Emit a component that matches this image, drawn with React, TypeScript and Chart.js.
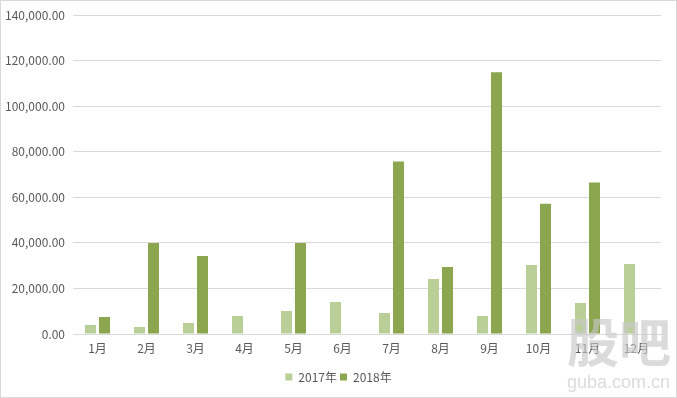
import React, { useEffect, useRef } from "react";
import { Chart, registerables } from "chart.js";

Chart.register(...registerables);

const months = ["1月", "2月", "3月", "4月", "5月", "6月", "7月", "8月", "9月", "10月", "11月", "12月"];
const series2017 = [4000, 3100, 4800, 7900, 10100, 14000, 9200, 24100, 7900, 30300, 13600, 30700];
const series2018 = [7500, 40000, 34300, null, 40000, null, 75700, 29400, 115000, 57200, 66500, null];
const label2017 = "2017年";
const label2018 = "2018年";
const yTicks = [0, 20000, 40000, 60000, 80000, 100000, 120000, 140000];

const FONT = "'Noto Sans CJK SC', 'Microsoft YaHei', sans-serif";

const framePlugin = {
  id: "frame",
  beforeDraw(chart: any) {
    const { ctx, width, height } = chart;
    ctx.save();
    ctx.fillStyle = "#ffffff";
    ctx.fillRect(0, 0, width, height);
    ctx.restore();
  },
  afterDraw(chart: any) {
    const { ctx, width, height } = chart;
    ctx.save();
    ctx.strokeStyle = "#d9d9d9";
    ctx.lineWidth = 1;
    ctx.strokeRect(0.5, 0.5, width - 1, height - 1);
    // watermark
    ctx.fillStyle = "rgba(200,200,200,0.65)";
    ctx.font = "bold 52px 'Noto Sans CJK SC', sans-serif";
    ctx.textAlign = "left";
    ctx.textBaseline = "alphabetic";
    ctx.fillText("股吧", 567, 362);
    ctx.font = "18px 'Liberation Sans', sans-serif";
    ctx.fillText("guba.com.cn", 567, 388);
    ctx.restore();
  },
};

export default function App() {
  const ref = useRef<HTMLCanvasElement>(null);
  useEffect(() => {
    document.body.style.margin = "0";
    const chart = new Chart(ref.current!, {
      type: "bar",
      data: {
        labels: months,
        datasets: [
          {
            label: label2017,
            data: series2017,
            backgroundColor: "#BACF97",
            categoryPercentage: 0.571,
            barPercentage: 0.786,
          },
          {
            label: label2018,
            data: series2018,
            backgroundColor: "#8BA64E",
            categoryPercentage: 0.571,
            barPercentage: 0.786,
          },
        ],
      },
      options: {
        responsive: false,
        animation: false,
        layout: { padding: { left: 0, right: 0, top: 15, bottom: 5 } },
        plugins: {
          legend: {
            position: "bottom",
            labels: {
              boxWidth: 7,
              boxHeight: 7,
              color: "#595959",
              font: { family: FONT, size: 12 },
              padding: 3,
            },
          },
          tooltip: { enabled: false },
        },
        scales: {
          x: {
            grid: { display: false },
            border: { display: true, color: "#d9d9d9" },
            ticks: { color: "#595959", font: { family: FONT, size: 12 }, padding: -1 },
            afterFit: (s: any) => {
              s.height = 34;
            },
          },
          y: {
            min: 0,
            max: 140000,
            afterBuildTicks: (s: any) => {
              s.ticks = yTicks.map((v) => ({ value: v }));
            },
            grid: { color: "#d9d9d9", drawTicks: false },
            border: { display: false },
            ticks: {
              color: "#595959",
              font: { family: FONT, size: 12 },
              padding: 8,
              callback: (v: any) =>
                Number(v).toLocaleString("en-US", { minimumFractionDigits: 2, maximumFractionDigits: 2 }),
            },
            afterFit: (s: any) => {
              s.width = 73;
            },
          },
          spacer: {
            type: "linear",
            position: "right",
            display: true,
            grid: { display: false, drawOnChartArea: false },
            border: { display: false },
            ticks: { display: false },
            afterFit: (s: any) => {
              s.width = 16;
            },
          },
        },
      },
      plugins: [framePlugin],
    });
    return () => chart.destroy();
  }, []);
  return <canvas ref={ref} width={677} height={398} style={{ display: "block" }} />;
}
